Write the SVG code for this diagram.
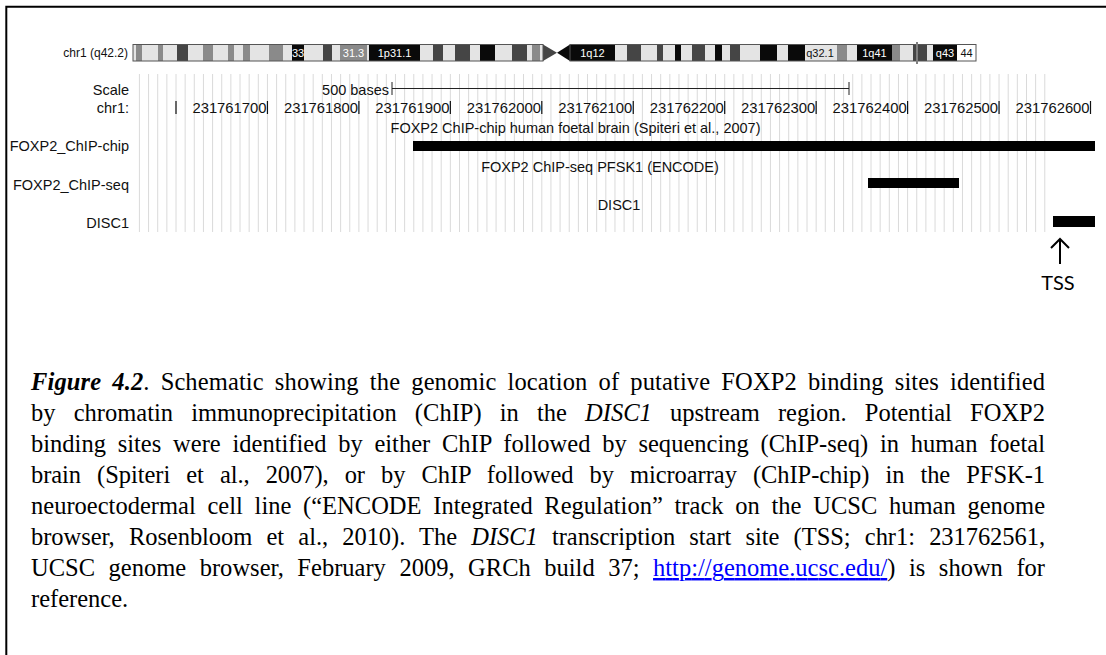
<svg xmlns="http://www.w3.org/2000/svg" width="1106" height="655" viewBox="0 0 1106 655">
<style>
.lbl{font-family:"Liberation Sans",Arial,sans-serif;font-size:14.5px;fill:#111}
.num{font-family:"Liberation Sans",Arial,sans-serif;font-size:14.8px;fill:#111;text-anchor:end}
.band{font-family:"Liberation Sans",Arial,sans-serif;font-size:11px;text-anchor:middle}
.w{fill:#fff}
.k{fill:#111}
.L{fill:#e4e4e4}
.G{fill:#8a8a8a}
.D{fill:#454545}
.B{fill:#0a0a0a}
.cap{font-family:"Liberation Serif","Times New Roman",serif;font-size:24.5px;fill:#000}
.bi{font-weight:bold;font-style:italic}
.it{font-style:italic}
.link{fill:#0000ff;text-decoration:underline}
.bar{fill:#000}
</style>
<defs>
<marker id="chev" markerWidth="20" markerHeight="20" refX="10" refY="10" orient="auto" markerUnits="userSpaceOnUse">
<polyline points="1,1 10,10 1,19" fill="none" stroke="#000" stroke-width="2"/>
</marker>
</defs>
<rect width="1106" height="655" fill="#fff"/>
<g id="frame" stroke="#000" stroke-width="2" fill="none">
<path d="M6.3 655V6.7H1106"/>
</g>

<g id="ideogram">
<text class="lbl" x="128" y="57" text-anchor="end" style="font-size:12px">chr1 (q42.2)</text>
<rect x="133" y="44.5" width="410" height="16.5" class="L"/>
<rect x="570" y="44.5" width="406" height="16.5" class="L"/>
<rect x="136" y="44.5" width="6" height="16.5" class="G"/>
<rect x="158" y="44.5" width="5" height="16.5" class="G"/>
<rect x="177" y="44.5" width="11" height="16.5" class="D"/>
<rect x="203" y="44.5" width="10" height="16.5" class="G"/>
<rect x="228" y="44.5" width="6" height="16.5" class="G"/>
<rect x="243" y="44.5" width="7" height="16.5" class="G"/>
<rect x="269" y="44.5" width="14" height="16.5" class="G"/>
<rect x="292" y="44.5" width="12" height="16.5" class="B"/>
<rect x="323" y="44.5" width="9" height="16.5" class="D"/>
<rect x="340" y="44.5" width="27" height="16.5" class="G"/>
<rect x="369" y="44.5" width="51" height="16.5" class="B"/>
<rect x="433" y="44.5" width="10" height="16.5" class="D"/>
<rect x="455" y="44.5" width="15" height="16.5" class="D"/>
<rect x="480" y="44.5" width="15" height="16.5" class="B"/>
<rect x="512" y="44.5" width="15" height="16.5" class="D"/>
<rect x="532" y="44.5" width="8" height="16.5" class="G"/>
<polygon points="543,44.5 557,52.75 543,61" class="D"/>
<polygon points="570,44.5 557,52.75 570,61" class="B"/>
<rect x="570" y="44.5" width="45" height="16.5" class="B"/>
<rect x="627" y="44.5" width="14" height="16.5" class="D"/>
<rect x="657" y="44.5" width="6" height="16.5" class="D"/>
<rect x="675" y="44.5" width="6" height="16.5" class="B"/>
<rect x="692" y="44.5" width="13" height="16.5" class="D"/>
<rect x="715" y="44.5" width="7" height="16.5" class="B"/>
<rect x="730" y="44.5" width="10" height="16.5" class="D"/>
<rect x="760" y="44.5" width="17" height="16.5" class="B"/>
<rect x="788" y="44.5" width="17" height="16.5" class="B"/>
<rect x="837" y="44.5" width="10" height="16.5" class="G"/>
<rect x="857" y="44.5" width="35" height="16.5" class="B"/>
<rect x="892" y="44.5" width="8" height="16.5" class="G"/>
<rect x="913" y="44.5" width="14" height="16.5" class="D"/>
<rect x="933" y="44.5" width="24" height="16.5" class="B"/>
<rect x="957" y="44.5" width="19" height="16.5" fill="#fff"/>
<g fill="none" stroke="#555" stroke-width="1">
<rect x="133" y="44.5" width="410" height="16.5"/>
<rect x="570" y="44.5" width="406" height="16.5"/>
</g>
<line x1="917" y1="42" x2="917" y2="64" stroke="#808080" stroke-width="2"/>
<text class="band w" x="298" y="57">33</text>
<text class="band w" x="353.5" y="57">31.3</text>
<text class="band w" x="394.5" y="57">1p31.1</text>
<text class="band w" x="592.5" y="57">1q12</text>
<text class="band k" x="820" y="57">q32.1</text>
<text class="band w" x="874.5" y="57">1q41</text>
<text class="band w" x="945" y="57">q43</text>
<text class="band k" x="966.5" y="57">44</text>
</g>

<g id="grid">
<path fill="none" stroke="#dadada" stroke-width="1" d="M139.42 74v158m9.145-158v158m9.145-158v158m9.145-158v158m9.145-158v158m9.145-158v158m9.145-158v158m9.145-158v158m9.145-158v158m9.145-158v158m9.145-158v158m9.145-158v158m9.145-158v158m9.145-158v158m9.145-158v158m9.145-158v158m9.145-158v158m9.145-158v158m9.145-158v158m9.145-158v158m9.145-158v158m9.145-158v158m9.145-158v158m9.145-158v158m9.145-158v158m9.145-158v158m9.145-158v158m9.145-158v158m9.145-158v158m9.145-158v158m9.145-158v158m9.145-158v158m9.145-158v158m9.145-158v158m9.145-158v158m9.145-158v158m9.145-158v158m9.145-158v158m9.145-158v158m9.145-158v158m9.145-158v158m9.145-158v158m9.145-158v158m9.145-158v158m9.145-158v158m9.145-158v158m9.145-158v158m9.145-158v158m9.145-158v158m9.145-158v158m9.145-158v158m9.145-158v158m9.145-158v158m9.145-158v158m9.145-158v158m9.145-158v158m9.145-158v158m9.145-158v158m9.145-158v158m9.145-158v158m9.145-158v158m9.145-158v158m9.145-158v158m9.145-158v158m9.145-158v158m9.145-158v158m9.145-158v158m9.145-158v158m9.145-158v158m9.145-158v158m9.145-158v158m9.145-158v158m9.145-158v158m9.145-158v158m9.145-158v158m9.145-158v158m9.145-158v158m9.145-158v158m9.145-158v158m9.145-158v158m9.145-158v158m9.145-158v158m9.145-158v158m9.145-158v158m9.145-158v158m9.145-158v158m9.145-158v158m9.145-158v158m9.145-158v158m9.145-158v158m9.145-158v158m9.145-158v158m9.145-158v158m9.145-158v158m9.145-158v158m9.145-158v158m9.145-158v158m9.145-158v158m9.145-158v158m9.145-158v158"/>
</g>

<g id="scale">
<text class="lbl" x="129" y="95" text-anchor="end">Scale</text>
<text class="lbl" x="389" y="95" text-anchor="end">500 bases</text>
<path d="M392 82V95M392 88.5H849M849 82V95" fill="none" stroke="#222" stroke-width="1"/>
</g>

<g id="ruler">
<text class="lbl" x="129" y="112.5" text-anchor="end">chr1:</text>
<path d="M176 101V114M267.45 101V114M358.9 101V114M450.35 101V114M541.8 101V114M633.25 101V114M724.7 101V114M816.15 101V114M907.6 101V114M999.05 101V114M1090.5 101V114" fill="none" stroke="#111" stroke-width="1.2"/>
<text class="num" x="266.5" y="112.5">231761700</text>
<text class="num" x="358" y="112.5">231761800</text>
<text class="num" x="449.4" y="112.5">231761900</text>
<text class="num" x="540.9" y="112.5">231762000</text>
<text class="num" x="632.3" y="112.5">231762100</text>
<text class="num" x="723.8" y="112.5">231762200</text>
<text class="num" x="815.2" y="112.5">231762300</text>
<text class="num" x="906.7" y="112.5">231762400</text>
<text class="num" x="998.1" y="112.5">231762500</text>
<text class="num" x="1089.6" y="112.5">231762600</text>
</g>

<g id="track-chip">
<text class="lbl" x="129" y="151" text-anchor="end">FOXP2_ChIP-chip</text>
<text class="lbl" x="575.5" y="132.5" text-anchor="middle">FOXP2 ChIP-chip human foetal brain (Spiteri et al., 2007)</text>
<rect class="bar" x="413" y="141" width="682" height="10"/>
</g>

<g id="track-seq">
<text class="lbl" x="129" y="190" text-anchor="end">FOXP2_ChIP-seq</text>
<text class="lbl" x="600" y="172" text-anchor="middle">FOXP2 ChIP-seq PFSK1 (ENCODE)</text>
<rect class="bar" x="868" y="178" width="91" height="10"/>
</g>

<g id="track-disc1">
<text class="lbl" x="129" y="228" text-anchor="end">DISC1</text>
<text class="lbl" x="619" y="210" text-anchor="middle">DISC1</text>
<rect class="bar" x="1053" y="216" width="42" height="11"/>
</g>

<g id="tss">
<text x="1058" y="290" text-anchor="middle" style="font-family:Lato,'Open Sans',sans-serif;font-size:20px;fill:#000">TSS</text>
</g>

<g id="connectors">
<line x1="1060" y1="264" x2="1060" y2="239" stroke="#000" stroke-width="2" marker-end="url(#chev)"/>
</g>

<g id="caption">
<text class="cap" x="31" y="390" textLength="1014" lengthAdjust="spacing" style="word-spacing:4.9px"><tspan class="bi">Figure 4.2</tspan>. Schematic showing the genomic location of putative FOXP2 binding sites identified</text>
<text class="cap" x="31" y="421" textLength="1014" lengthAdjust="spacing" style="word-spacing:12px">by chromatin immunoprecipitation (ChIP) in the <tspan class="it">DISC1</tspan> upstream region. Potential FOXP2</text>
<text class="cap" x="31" y="452" textLength="1014" lengthAdjust="spacing" style="word-spacing:5.6px">binding sites were identified by either ChIP followed by sequencing (ChIP-seq) in human foetal</text>
<text class="cap" x="31" y="483" textLength="1014" lengthAdjust="spacing" style="word-spacing:10px">brain (Spiteri et al., 2007), or by ChIP followed by microarray (ChIP-chip) in the PFSK-1</text>
<text class="cap" x="31" y="514" textLength="1014" lengthAdjust="spacing" style="word-spacing:5.6px">neuroectodermal cell line (“ENCODE Integrated Regulation” track on the UCSC human genome</text>
<text class="cap" x="31" y="545" textLength="1014" lengthAdjust="spacing" style="word-spacing:8.2px">browser, Rosenbloom et al., 2010). The <tspan class="it">DISC1</tspan> transcription start site (TSS; chr1: 231762561,</text>
<text class="cap" x="31" y="576" textLength="1014" lengthAdjust="spacing" style="word-spacing:7.4px">UCSC genome browser, February 2009, GRCh build 37; <tspan class="link">http://genome.ucsc.edu/</tspan>) is shown for</text>
<text class="cap" x="31" y="607">reference.</text>
</g>
</svg>
